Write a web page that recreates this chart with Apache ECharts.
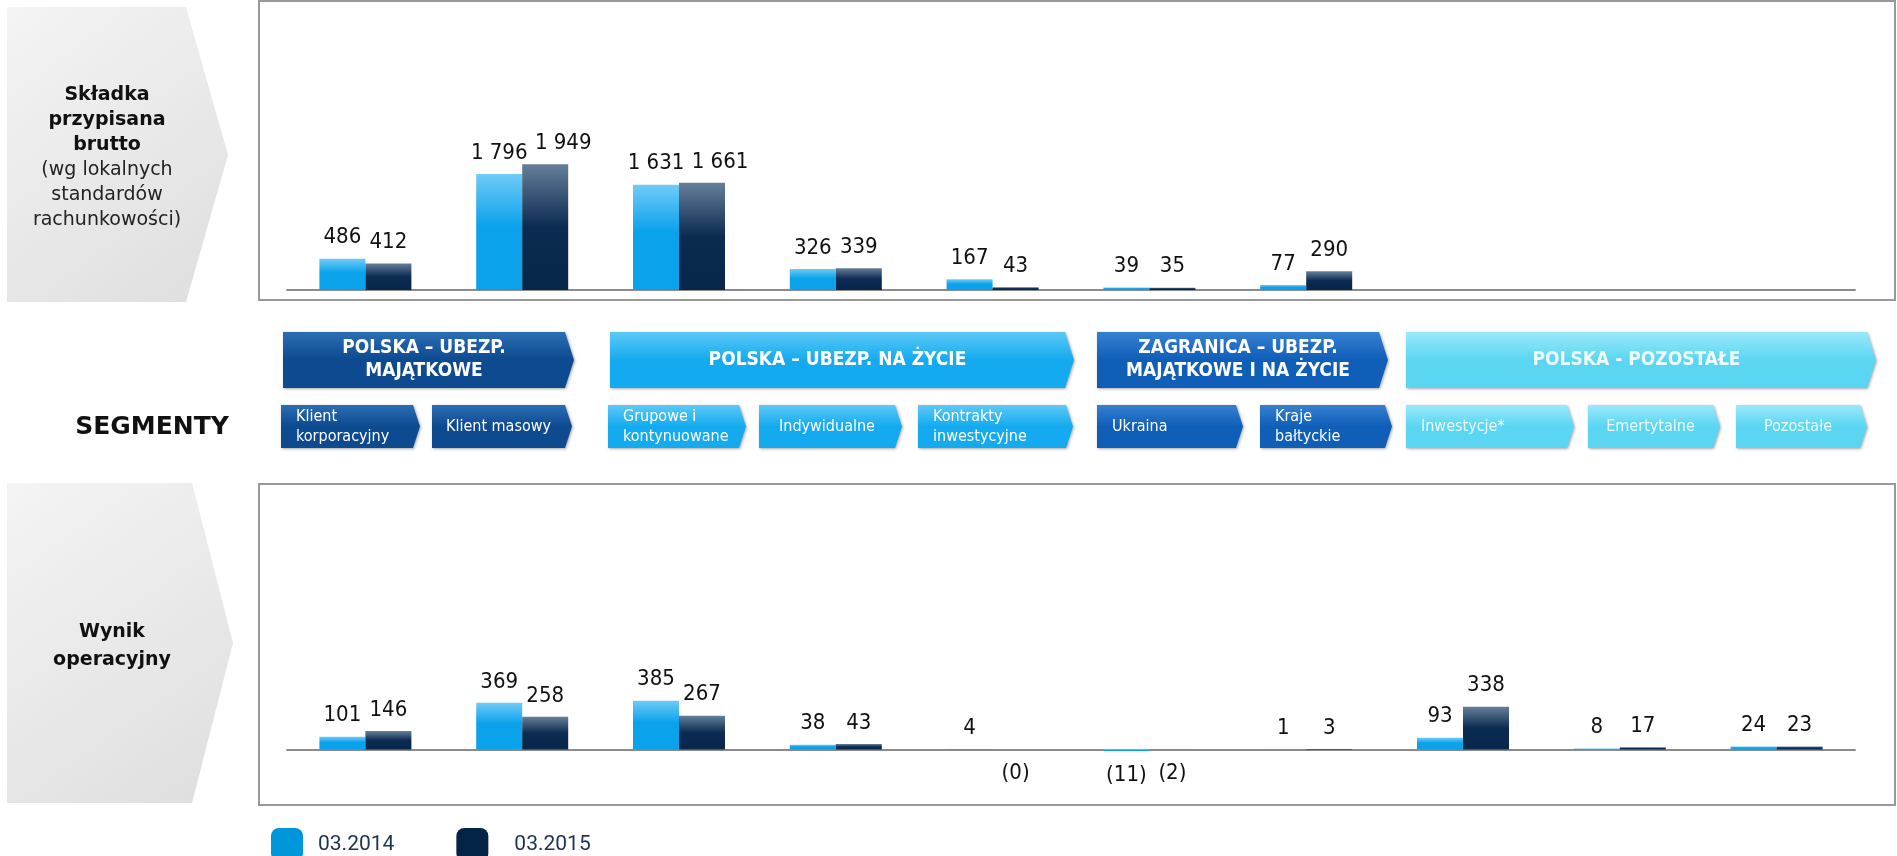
<!DOCTYPE html>
<html><head><meta charset="utf-8">
<script src="https://cdn.jsdelivr.net/npm/echarts@6/dist/echarts.min.js"></script>
<style>html,body{margin:0;padding:0;background:#fff}#c{width:1897px;height:856px}</style>
</head><body><div id="c"></div>
<script>
// ---------- DATA ----------
const categories = ['Klient korporacyjny','Klient masowy','Grupowe i kontynuowane','Indywidualne','Kontrakty inwestycyjne','Ukraina','Kraje bałtyckie','Inwestycje*','Emertytalne','Pozostałe'];
const seriesNames = ['03.2014','03.2015'];
const premium2014 = [486, 1796, 1631, 326, 167, 39, 77, null, null, null];
const premium2015 = [412, 1949, 1661, 339, 43, 35, 290, null, null, null];
const result2014 = [101, 369, 385, 38, 4, -11, 1, 93, 8, 24];
const result2015 = [146, 258, 267, 43, -0.4, -2, 3, 338, 17, 23];
const segmentHeaders = ['POLSKA – UBEZP.\nMAJĄTKOWE', 'POLSKA – UBEZP. NA ŻYCIE', 'ZAGRANICA – UBEZP.\nMAJĄTKOWE I NA ŻYCIE', 'POLSKA - POZOSTAŁE'];
const subSegments = ['Klient\nkorporacyjny','Klient masowy','Grupowe i\nkontynuowane','Indywidualne','Kontrakty\ninwestycyjne','Ukraina','Kraje\nbałtyckie','Inwestycje*','Emertytalne','Pozostałe'];
const rowTitleTop = ['Składka', 'przypisana', 'brutto', '(wg lokalnych', 'standardów', 'rachunkowości)'];
const rowTitleBottom = ['Wynik', 'operacyjny'];
const middleLabel = 'SEGMENTY';

// ---------- LAYOUT / STYLE ----------
const NARROW = '"Liberation Sans Narrow","DejaVu Sans Condensed","Arial Narrow",sans-serif';
const WIDE = '"DejaVu Sans",Verdana,sans-serif';
const palette = {
  dark:  ['#2b6db5', '#0d4a90', '#ffffff'],
  light: ['#5ccaf7', '#14aaef', '#ffffff'],
  mid:   ['#3680d2', '#0f5eb8', '#ffffff'],
  cyan:  ['#9ae9f9', '#5ad6f3', '#eefcff']
};
const headerLayout = [
  {x:283, w:291, c:'dark'}, {x:610, w:464, c:'light'}, {x:1097, w:291, c:'mid'}, {x:1406, w:470, c:'cyan'}
];
const subLayout = [
  {x:281, w:139, c:'dark', a:'left'}, {x:432, w:140, c:'dark', a:'center'},
  {x:608, w:138, c:'light', a:'left'}, {x:759, w:143, c:'light', a:'center'}, {x:918, w:155, c:'light', a:'left'},
  {x:1097, w:146, c:'mid', a:'left'}, {x:1260, w:132, c:'mid', a:'left'},
  {x:1406, w:168, c:'cyan', a:'left'}, {x:1588, w:132, c:'cyan', a:'center'}, {x:1736, w:131, c:'cyan', a:'center'}
];

function fmt(v) {
  if (v < 0) return '(' + Math.round(-v) + ')';
  return String(Math.round(v)).replace(/\B(?=(\d{3})+(?!\d))/g, ' ');
}
const grad = (stops) => new echarts.graphic.LinearGradient(0, 0, 0, 1, stops);
const colLight = () => grad([{offset:0,color:'#6fcbf7'},{offset:0.45,color:'#0aa2eb'},{offset:1,color:'#0aa2eb'}]);
const colDark = () => grad([{offset:0,color:'#667e99'},{offset:0.5,color:'#0b2b52'},{offset:1,color:'#06264a'}]);

function barSeries(name, data, idx, color, shiftWide) {
  return {
    type: 'bar', name: name, xAxisIndex: idx, yAxisIndex: idx,
    barWidth: 46, barGap: '0%',
    itemStyle: { color: color },
    label: { show: true, color: '#111', fontFamily: NARROW, fontSize: 22, formatter: p => fmt(p.value) },
    data: data.map(v => v == null ? '-' : {
      value: v,
      label: { position: v < 0 ? 'bottom' : 'top', distance: v < 0 ? 13 : 10, offset: [shiftWide && v >= 1000 ? 18 : 0, 0] }
    })
  };
}

function arrowPts(x, y, w, h, d) {
  return [[x, y], [x + w - d, y], [x + w, y + h / 2], [x + w - d, y + h], [x, y + h]];
}

const graphics = [];
// left grey chevrons
const greyFill = new echarts.graphic.LinearGradient(0, 0, 1, 1, [{offset:0,color:'#f4f4f4'},{offset:1,color:'#dedede'}]);
graphics.push({ type: 'polygon', shape: { points: [[7,7],[186,7],[228,155],[186,302],[7,302]] }, style: { fill: greyFill } });
graphics.push({ type: 'polygon', shape: { points: [[7,483],[192,483],[233,643],[192,803],[7,803]] }, style: { fill: greyFill } });
rowTitleTop.forEach((t, i) => graphics.push({ type: 'text', style: { text: t, x: 107, y: 95 + i * 25, align: 'center', verticalAlign: 'middle', fontFamily: WIDE, fontSize: 19, fontWeight: i < 3 ? 'bold' : 'normal', fill: i < 3 ? '#111' : '#222' } }));
rowTitleBottom.forEach((t, i) => graphics.push({ type: 'text', style: { text: t, x: 112, y: 632 + i * 28, align: 'center', verticalAlign: 'middle', fontFamily: WIDE, fontSize: 19, fontWeight: 'bold', fill: '#111' } }));
graphics.push({ type: 'text', style: { text: middleLabel, x: 152, y: 427, align: 'center', verticalAlign: 'middle', fontFamily: WIDE, fontSize: 25, fontWeight: 'bold', fill: '#111' } });
// chart frames
graphics.push({ type: 'rect', shape: { x: 259, y: 1, width: 1636, height: 299 }, style: { fill: 'none', stroke: '#999', lineWidth: 2 } });
graphics.push({ type: 'rect', shape: { x: 259, y: 484, width: 1636, height: 321 }, style: { fill: 'none', stroke: '#999', lineWidth: 2 } });
// segment headers
segmentHeaders.forEach((t, i) => {
  const L = headerLayout[i], p = palette[L.c];
  graphics.push({ type: 'polygon', shape: { points: arrowPts(L.x, 332, L.w, 56, 9) },
    style: { fill: grad([{offset:0,color:p[0]},{offset:0.5,color:p[1]},{offset:1,color:p[1]}]), shadowBlur: 3, shadowOffsetX: 1, shadowOffsetY: 1, shadowColor: 'rgba(0,0,0,0.35)' } });
  graphics.push({ type: 'text', style: { text: t, x: L.x + (L.w - 9) / 2, y: 360, align: 'center', verticalAlign: 'middle', fontFamily: NARROW, fontSize: 19, fontWeight: 'bold', lineHeight: 23, fill: p[2] } });
});
subSegments.forEach((t, i) => {
  const L = subLayout[i], p = palette[L.c];
  graphics.push({ type: 'polygon', shape: { points: arrowPts(L.x, 405, L.w, 43, 7) },
    style: { fill: grad([{offset:0,color:p[0]},{offset:0.5,color:p[1]},{offset:1,color:p[1]}]), shadowBlur: 3, shadowOffsetX: 1, shadowOffsetY: 1, shadowColor: 'rgba(0,0,0,0.35)' } });
  graphics.push({ type: 'text', style: { text: t, x: L.a === 'left' ? L.x + 15 : L.x + (L.w - 7) / 2, y: 427, align: L.a, verticalAlign: 'middle', fontFamily: NARROW, fontSize: 16, lineHeight: 20, fill: p[2] } });
});

const chart = echarts.init(document.getElementById('c'), null, { renderer: 'canvas' });
const axisLine = { show: true, onZero: true, lineStyle: { color: '#8c8c8c', width: 2 } };
chart.setOption({
  animation: false,
  backgroundColor: '#fff',
  grid: [
    { left: 287, right: 42, top: 19, bottom: 566 },
    { left: 287, right: 42, top: 509, bottom: 66 }
  ],
  xAxis: [
    { type: 'category', gridIndex: 0, data: categories, axisLine: axisLine, axisTick: { show: false }, axisLabel: { show: false } },
    { type: 'category', gridIndex: 1, data: categories, axisLine: axisLine, axisTick: { show: false }, axisLabel: { show: false } }
  ],
  yAxis: [
    { type: 'value', gridIndex: 0, min: 0, max: 4200, show: false, splitLine: { show: false } },
    { type: 'value', gridIndex: 1, min: -320, max: 1900, show: false, splitLine: { show: false } }
  ],
  legend: {
    left: 266, top: 823, icon: 'roundRect', itemWidth: 32, itemHeight: 33, itemGap: 62,
    textStyle: { color: '#1d3352', fontSize: 21, fontFamily: 'Roboto, sans-serif', padding: [0, 0, 0, 10] },
    data: [
      { name: seriesNames[0], itemStyle: { color: '#0096dc' } },
      { name: seriesNames[1], itemStyle: { color: '#032447' }, textStyle: { padding: [0, 0, 0, 21] } }
    ]
  },
  series: [
    barSeries(seriesNames[0], premium2014, 0, colLight(), false),
    barSeries(seriesNames[1], premium2015, 0, colDark(), true),
    barSeries(seriesNames[0], result2014, 1, colLight(), false),
    barSeries(seriesNames[1], result2015, 1, colDark(), true)
  ],
  graphic: graphics
});
</script></body></html>
